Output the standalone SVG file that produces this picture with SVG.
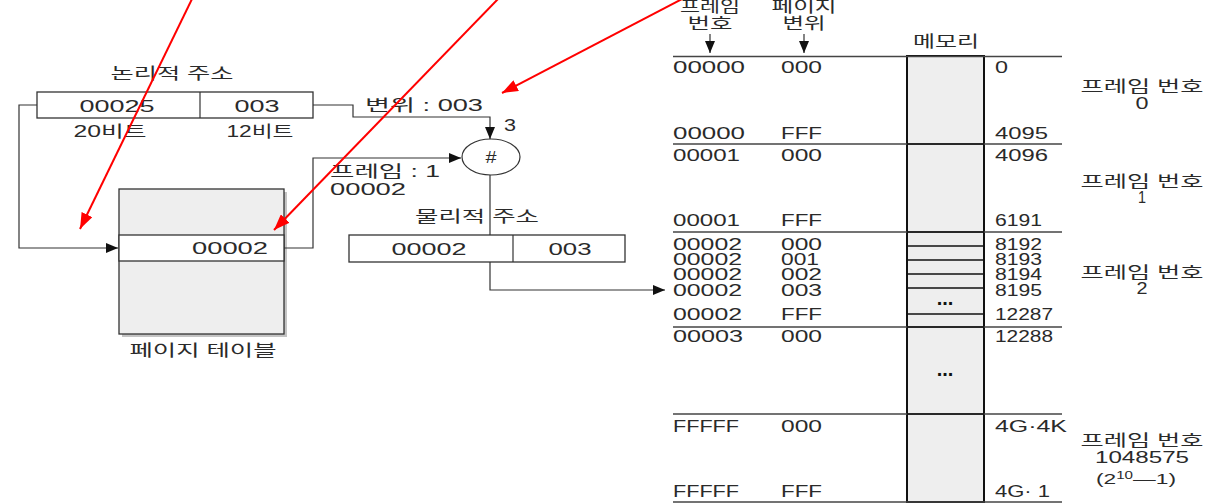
<svg xmlns="http://www.w3.org/2000/svg" width="1230" height="503" viewBox="0 0 1230 503">
<style>
.t{font-family:"Liberation Sans","Noto Sans CJK KR",sans-serif;font-size:16px;fill:#2a2a2a}
.m{text-anchor:middle}
.e{text-anchor:end}
.sm{font-size:15px}
.box{fill:#fff;stroke:#333;stroke-width:1.3}
.ln{fill:none;stroke:#333;stroke-width:1.2}
.grid{stroke:#444;stroke-width:1.3}
.cell{stroke:#111;stroke-width:1.6}
.red{fill:none;stroke:#f00;stroke-width:2}
.dots{font-family:"Liberation Sans",sans-serif;font-size:20px;font-weight:bold;fill:#111;text-anchor:middle}
</style>
<defs>
<marker id="ah" markerUnits="userSpaceOnUse" markerWidth="12" markerHeight="10" refX="12" refY="5" orient="auto">
<path d="M0,0 L12,5 L0,10 z" fill="#111"/>
</marker>
<marker id="rh" markerUnits="userSpaceOnUse" markerWidth="16" markerHeight="12" refX="16" refY="6" orient="auto">
<path d="M0,0 L16,6 L0,12 z" fill="#f00"/>
</marker>
</defs>
<rect width="1230" height="503" fill="#fff"/>

<g id="logical-address">
<text class="t m" x="172" y="79" textLength="123" lengthAdjust="spacingAndGlyphs">논리적 주소</text>
<rect class="box" x="37" y="92" width="276" height="26"/>
<line class="ln" x1="200" y1="92" x2="200" y2="118"/>
<text class="t m" x="117" y="112" textLength="75" lengthAdjust="spacingAndGlyphs">00025</text>
<text class="t m" x="257" y="112" textLength="45" lengthAdjust="spacingAndGlyphs">003</text>
<text class="t m" x="110" y="137" textLength="73" lengthAdjust="spacingAndGlyphs">20비트</text>
<text class="t m" x="260" y="137" textLength="67" lengthAdjust="spacingAndGlyphs">12비트</text>
</g>

<g id="page-table">
<rect x="122" y="192" width="165" height="145" fill="#c4c4c4"/>
<rect x="119" y="189" width="165" height="145" fill="#eeeeee" stroke="#333" stroke-width="1.3"/>
<rect class="box" x="119" y="235" width="165" height="26"/>
<text class="t e" x="268" y="254" textLength="76" lengthAdjust="spacingAndGlyphs">00002</text>
<text class="t m" x="203" y="356" textLength="147" lengthAdjust="spacingAndGlyphs">페이지 테이블</text>
</g>

<g id="combiner">
<ellipse cx="491" cy="157" rx="29" ry="18" fill="#fff" stroke="#333" stroke-width="1.2"/>
<text class="t m" x="491" y="163" textLength="11" lengthAdjust="spacingAndGlyphs">#</text>
</g>

<g id="physical-address">
<text class="t" x="415" y="222" textLength="124" lengthAdjust="spacingAndGlyphs">물리적 주소</text>
<rect class="box" x="349" y="235" width="276" height="27"/>
<line class="ln" x1="513" y1="235" x2="513" y2="262"/>
<text class="t m" x="429" y="255" textLength="75" lengthAdjust="spacingAndGlyphs">00002</text>
<text class="t m" x="570" y="255" textLength="43" lengthAdjust="spacingAndGlyphs">003</text>
</g>

<g id="labels">
<text class="t" x="365" y="111" textLength="118" lengthAdjust="spacingAndGlyphs">변위 : 003</text>
<text class="t" x="504" y="131" textLength="12" lengthAdjust="spacingAndGlyphs">3</text>
<text class="t" x="330" y="177" textLength="110" lengthAdjust="spacingAndGlyphs">프레임 : 1</text>
<text class="t" x="330" y="195" textLength="76" lengthAdjust="spacingAndGlyphs">00002</text>
</g>

<g id="memory-map">
<text class="t m" x="710" y="12" textLength="60" lengthAdjust="spacingAndGlyphs">프레임</text>
<text class="t m" x="710" y="29" textLength="45" lengthAdjust="spacingAndGlyphs">번호</text>
<text class="t m" x="804" y="12" textLength="65" lengthAdjust="spacingAndGlyphs">페이지</text>
<text class="t m" x="804" y="29" textLength="43" lengthAdjust="spacingAndGlyphs">변위</text>
<text class="t m" x="946" y="47" textLength="66" lengthAdjust="spacingAndGlyphs">메모리</text>

<rect x="907" y="56" width="77" height="446" fill="#eeeeee" stroke="#111" stroke-width="2"/>
<line class="grid" x1="673" y1="56.5" x2="1062" y2="56.5"/>
<line class="grid" x1="673" y1="144" x2="1062" y2="144"/>
<line class="grid" x1="673" y1="232" x2="1062" y2="232"/>
<line class="grid" x1="673" y1="327" x2="1062" y2="327"/>
<line class="grid" x1="673" y1="414" x2="1062" y2="414"/>
<line class="grid" x1="673" y1="502" x2="1062" y2="502"/>
<line class="cell" x1="907" y1="144" x2="984" y2="144"/>
<line class="cell" x1="907" y1="232" x2="984" y2="232"/>
<line class="cell" x1="907" y1="246" x2="984" y2="246"/>
<line class="cell" x1="907" y1="260" x2="984" y2="260"/>
<line class="cell" x1="907" y1="274" x2="984" y2="274"/>
<line class="cell" x1="907" y1="288" x2="984" y2="288"/>
<line class="cell" x1="907" y1="314" x2="984" y2="314"/>
<line class="cell" x1="907" y1="327" x2="984" y2="327"/>
<line class="cell" x1="907" y1="414" x2="984" y2="414"/>
<text class="dots" x="945" y="305">...</text>
<text class="dots" x="945" y="376">...</text>

<text class="t" x="673" y="73" textLength="72" lengthAdjust="spacingAndGlyphs">00000</text>
<text class="t" x="781" y="73" textLength="41" lengthAdjust="spacingAndGlyphs">000</text>
<text class="t" x="995" y="73" textLength="13" lengthAdjust="spacingAndGlyphs">0</text>

<text class="t" x="673" y="139" textLength="72" lengthAdjust="spacingAndGlyphs">00000</text>
<text class="t" x="781" y="139" textLength="41" lengthAdjust="spacingAndGlyphs">FFF</text>
<text class="t" x="995" y="139" textLength="53" lengthAdjust="spacingAndGlyphs">4095</text>

<text class="t" x="673" y="161" textLength="67" lengthAdjust="spacingAndGlyphs">00001</text>
<text class="t" x="781" y="161" textLength="41" lengthAdjust="spacingAndGlyphs">000</text>
<text class="t" x="995" y="161" textLength="53" lengthAdjust="spacingAndGlyphs">4096</text>

<text class="t" x="673" y="226" textLength="67" lengthAdjust="spacingAndGlyphs">00001</text>
<text class="t" x="781" y="226" textLength="41" lengthAdjust="spacingAndGlyphs">FFF</text>
<text class="t" x="995" y="226" textLength="47" lengthAdjust="spacingAndGlyphs">6191</text>

<text class="t" x="673" y="250" textLength="69" lengthAdjust="spacingAndGlyphs">00002</text>
<text class="t" x="781" y="250" textLength="41" lengthAdjust="spacingAndGlyphs">000</text>
<text class="t" x="995" y="250" textLength="47" lengthAdjust="spacingAndGlyphs">8192</text>

<text class="t" x="673" y="265" textLength="69" lengthAdjust="spacingAndGlyphs">00002</text>
<text class="t" x="781" y="265" textLength="38" lengthAdjust="spacingAndGlyphs">001</text>
<text class="t" x="995" y="265" textLength="47" lengthAdjust="spacingAndGlyphs">8193</text>

<text class="t" x="673" y="280" textLength="69" lengthAdjust="spacingAndGlyphs">00002</text>
<text class="t" x="781" y="280" textLength="41" lengthAdjust="spacingAndGlyphs">002</text>
<text class="t" x="995" y="280" textLength="47" lengthAdjust="spacingAndGlyphs">8194</text>

<text class="t" x="673" y="296" textLength="69" lengthAdjust="spacingAndGlyphs">00002</text>
<text class="t" x="781" y="296" textLength="41" lengthAdjust="spacingAndGlyphs">003</text>
<text class="t" x="995" y="296" textLength="47" lengthAdjust="spacingAndGlyphs">8195</text>

<text class="t" x="673" y="320" textLength="69" lengthAdjust="spacingAndGlyphs">00002</text>
<text class="t" x="781" y="320" textLength="41" lengthAdjust="spacingAndGlyphs">FFF</text>
<text class="t" x="995" y="320" textLength="58" lengthAdjust="spacingAndGlyphs">12287</text>

<text class="t" x="673" y="342" textLength="70" lengthAdjust="spacingAndGlyphs">00003</text>
<text class="t" x="781" y="342" textLength="41" lengthAdjust="spacingAndGlyphs">000</text>
<text class="t" x="995" y="342" textLength="58" lengthAdjust="spacingAndGlyphs">12288</text>

<text class="t" x="673" y="432" textLength="66" lengthAdjust="spacingAndGlyphs">FFFFF</text>
<text class="t" x="781" y="432" textLength="41" lengthAdjust="spacingAndGlyphs">000</text>
<text class="t" x="995" y="432" textLength="72" lengthAdjust="spacingAndGlyphs">4G·4K</text>

<text class="t" x="673" y="497" textLength="66" lengthAdjust="spacingAndGlyphs">FFFFF</text>
<text class="t" x="781" y="497" textLength="41" lengthAdjust="spacingAndGlyphs">FFF</text>
<text class="t" x="995" y="497" textLength="55" lengthAdjust="spacingAndGlyphs">4G· 1</text>

<text class="t m" x="1142" y="92" textLength="123" lengthAdjust="spacingAndGlyphs">프레임 번호</text>
<text class="t m" x="1142" y="109" textLength="13" lengthAdjust="spacingAndGlyphs">0</text>
<text class="t m" x="1142" y="187" textLength="123" lengthAdjust="spacingAndGlyphs">프레임 번호</text>
<text class="t m" x="1142" y="203" textLength="8" lengthAdjust="spacingAndGlyphs">1</text>
<text class="t m" x="1142" y="278" textLength="123" lengthAdjust="spacingAndGlyphs">프레임 번호</text>
<text class="t m" x="1142" y="294" textLength="11" lengthAdjust="spacingAndGlyphs">2</text>
<text class="t m" x="1142" y="446" textLength="123" lengthAdjust="spacingAndGlyphs">프레임 번호</text>
<text class="t m" x="1142" y="463" textLength="94" lengthAdjust="spacingAndGlyphs">1048575</text>
<text class="t sm" x="1096" y="484" textLength="80" lengthAdjust="spacingAndGlyphs">(2<tspan font-size="10" dy="-5">10</tspan><tspan dy="5">—1)</tspan></text>
</g>

<g id="connectors">
<polyline class="ln" points="37,105 19,105 19,248 118,248" marker-end="url(#ah)"/>
<polyline class="ln" points="284,248 313,248 313,158 461,158" marker-end="url(#ah)"/>
<polyline class="ln" points="313,105 353,105 353,117 490,117 490,139" marker-end="url(#ah)"/>
<line class="ln" x1="490" y1="175" x2="490" y2="235"/>
<polyline class="ln" points="490,262 490,290 665,290" marker-end="url(#ah)"/>
<line class="ln" x1="710" y1="34" x2="710" y2="53" marker-end="url(#ah)"/>
<line class="ln" x1="804" y1="34" x2="804" y2="53" marker-end="url(#ah)"/>
</g>

<g id="annotations">
<line class="red" x1="192" y1="-1" x2="80" y2="229" marker-end="url(#rh)"/>
<line class="red" x1="498" y1="-1" x2="274" y2="230" marker-end="url(#rh)"/>
<line class="red" x1="684" y1="-2" x2="502" y2="93" marker-end="url(#rh)"/>
</g>
</svg>
